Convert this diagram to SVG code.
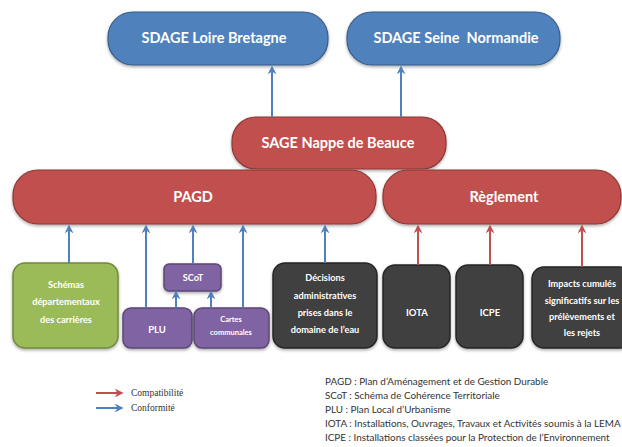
<svg xmlns="http://www.w3.org/2000/svg" width="622" height="447" viewBox="0 0 622 447">
<defs>
<filter id="sh" x="-10%" y="-10%" width="120%" height="130%">
<feDropShadow dx="0" dy="1.5" stdDeviation="1.5" flood-color="#000" flood-opacity="0.35"/>
</filter>
<marker id="ab" markerUnits="userSpaceOnUse" markerWidth="9" markerHeight="9" refX="3" refY="4" orient="auto" viewBox="0 0 8 8">
<path d="M0,0 L8,4 L0,8 L2.5,4 z" fill="#4f81bd"/>
</marker>
<marker id="ar" markerUnits="userSpaceOnUse" markerWidth="9" markerHeight="9" refX="3" refY="4" orient="auto" viewBox="0 0 8 8">
<path d="M0,0 L8,4 L0,8 L2.5,4 z" fill="#c0504d"/>
</marker>
</defs>
<style>
.blue{fill:#4f81bd;stroke:#385d8a;stroke-width:1.2;filter:url(#sh)}
.red{fill:#c0504d;stroke:#8c3836;stroke-width:1.2;filter:url(#sh)}
.green{fill:#9bbb59;stroke:#71893f;stroke-width:1.5;filter:url(#sh)}
.purple{fill:#8064a2;stroke:#5c4776;stroke-width:1.5;filter:url(#sh)}
.dark{fill:#404040;stroke:#262626;stroke-width:1.5;filter:url(#sh)}
.t{font-family:Lato,"Liberation Sans",sans-serif;font-weight:bold;fill:#fff;text-anchor:middle}
.big{font-size:14.5px}
.sm{font-size:9.2px}
.xs{font-size:7.5px}
.cb{stroke:#4f81bd;stroke-width:2;fill:none;marker-end:url(#ab)}
.cr{stroke:#c0504d;stroke-width:2;fill:none;marker-end:url(#ar)}
.leg{font-family:"Liberation Serif",serif;font-size:9.5px;fill:#333}
.def{font-family:Lato,"Liberation Sans",sans-serif;font-size:9.9px;fill:#333}
</style>
<rect width="622" height="447" fill="#fff"/>

<g id="sdage-loire">
<rect class="blue" x="108" y="12" width="220" height="53" rx="25"/>
<text class="t big" x="214" y="43">SDAGE Loire Bretagne</text>
</g>
<g id="sdage-seine">
<rect class="blue" x="347" y="12" width="213" height="53" rx="25"/>
<text class="t big" x="456" y="43" xml:space="preserve">SDAGE Seine  Normandie</text>
</g>
<g id="sage">
<rect class="red" x="232" y="117" width="214" height="52" rx="24"/>
<text class="t big" x="338" y="148">SAGE Nappe de Beauce</text>
</g>
<g id="pagd">
<rect class="red" x="13" y="170" width="363" height="54" rx="25"/>
<text class="t big" x="193" y="202">PAGD</text>
</g>
<g id="reglement">
<rect class="red" x="383" y="170" width="238" height="54" rx="25"/>
<text class="t big" x="504" y="202">Règlement</text>
</g>

<g id="schemas">
<rect class="green" x="13" y="263" width="105" height="85" rx="12"/>
<text class="t sm" x="66" y="288">Schémas</text>
<text class="t sm" x="66" y="305">départementaux</text>
<text class="t sm" x="66" y="323">des carrières</text>
</g>
<g id="scot">
<rect class="purple" x="164" y="264" width="57" height="27" rx="5"/>
<text class="t sm" x="193" y="281">SCoT</text>
</g>
<g id="plu">
<rect class="purple" x="123" y="308" width="69" height="40" rx="8"/>
<text class="t" style="font-size:9.5px" x="157" y="333">PLU</text>
</g>
<g id="cartes">
<rect class="purple" x="194" y="308" width="75" height="40" rx="8"/>
<text class="t xs" x="231" y="322">Cartes</text>
<text class="t xs" x="231" y="335">communales</text>
</g>
<g id="decisions">
<rect class="dark" x="273" y="263" width="104" height="85" rx="12"/>
<text class="t sm" x="325" y="281">Décisions</text>
<text class="t sm" x="325" y="299">administratives</text>
<text class="t sm" x="325" y="316">prises dans le</text>
<text class="t sm" x="325" y="333">domaine de l’eau</text>
</g>
<g id="iota">
<rect class="dark" x="383" y="265" width="67" height="83" rx="12"/>
<text class="t" style="font-size:9.5px" x="417" y="316">IOTA</text>
</g>
<g id="icpe">
<rect class="dark" x="456" y="265" width="67" height="83" rx="12"/>
<text class="t" style="font-size:9.5px" x="490" y="316">ICPE</text>
</g>
<g id="impacts">
<rect class="dark" x="532" y="267" width="100" height="81" rx="12"/>
<text class="t sm" x="582" y="287">Impacts cumulés</text>
<text class="t sm" x="582" y="304">significatifs sur les</text>
<text class="t sm" x="582" y="320">prélèvements et</text>
<text class="t sm" x="582" y="336">les rejets</text>
</g>

<g id="connectors">
<path class="cb" d="M272,117 V71"/>
<path class="cb" d="M401,117 V71"/>
<path class="cb" d="M69,263 V230"/>
<path class="cb" d="M146,308 V230"/>
<path class="cb" d="M193,264 V230"/>
<path class="cb" d="M243,308 V230"/>
<path class="cb" d="M176,308 V296"/>
<path class="cb" d="M211,308 V296"/>
<path class="cb" d="M325,263 V230"/>
<path class="cr" d="M418,265 V230"/>
<path class="cr" d="M490,265 V230"/>
<path class="cr" d="M582,267 V230"/>
</g>

<g id="legend">
<path class="cr" d="M96,393 H118"/>
<path class="cb" d="M96,408 H118"/>
<text class="leg" x="131" y="396">Compatibilité</text>
<text class="leg" x="131" y="411">Conformité</text>
<text class="def" x="325" y="385">PAGD : Plan d’Aménagement et de Gestion Durable</text>
<text class="def" x="325" y="399">SCoT : Schéma de Cohérence Territoriale</text>
<text class="def" x="325" y="413">PLU : Plan Local d’Urbanisme</text>
<text class="def" x="325" y="427">IOTA : Installations, Ouvrages, Travaux et Activités soumis à la LEMA</text>
<text class="def" x="325" y="441">ICPE : Installations classées pour la Protection de l’Environnement</text>
</g>
</svg>
